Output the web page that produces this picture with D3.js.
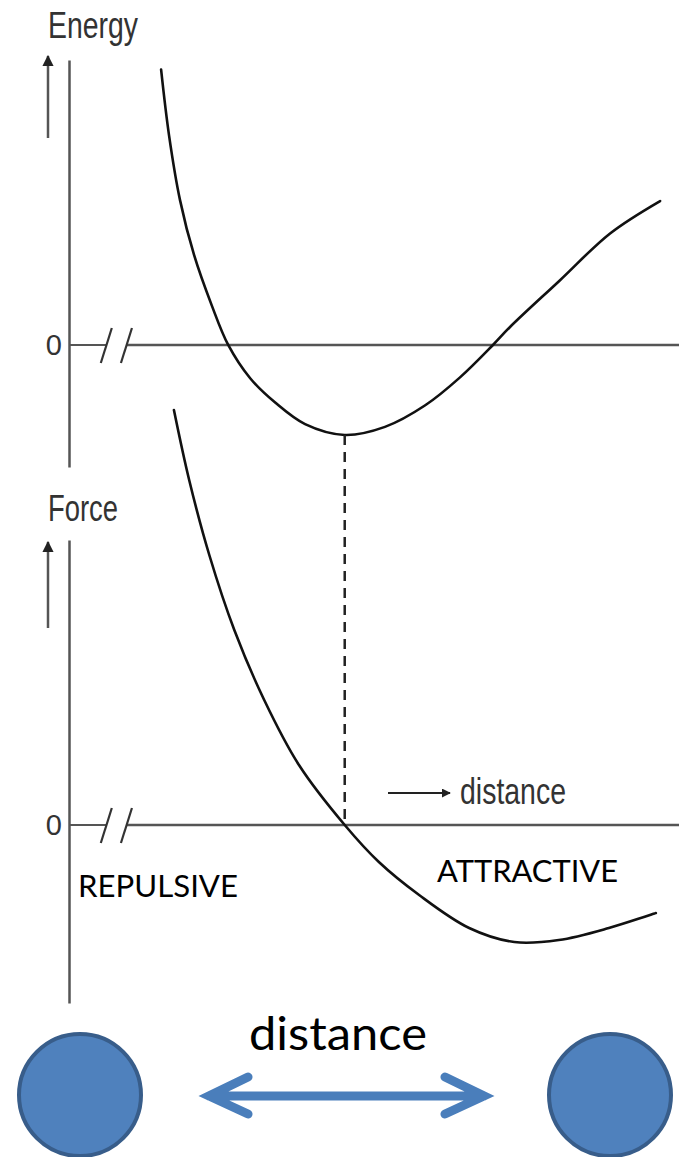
<!DOCTYPE html>
<html>
<head>
<meta charset="utf-8">
<script src="https://cdn.jsdelivr.net/npm/d3@7"></script>
<style>
  body { margin: 0; background: #fff; }
  svg { display: block; }
</style>
</head>
<body>
<svg id="chart"></svg>
<script>
// energy curve (distance in arbitrary units)
var energyDist = [1.51, 1.64, 1.82, 2.05, 2.34, 2.61, 2.97, 3.38, 3.87, 4.52, 5.18, 5.84, 6.41, 6.95, 7.23, 8.05, 8.87, 9.69];
var energyVals = [3.06, 2.33, 1.61, 1.00, 0.44, 0.00, -0.37, -0.64, -0.88, -1.00, -0.91, -0.67, -0.36, 0.00, 0.20, 0.72, 1.24, 1.60];

// force curve
var forceDist = [1.72, 1.97, 2.30, 2.71, 3.20, 3.77, 4.52, 5.08, 5.74, 6.56, 7.30, 8.03, 8.85, 9.62];
var forceVals = [4.15, 3.45, 2.70, 1.95, 1.25, 0.60, 0.00, -0.37, -0.70, -1.03, -1.17, -1.15, -1.03, -0.88];

var equilibrium = 4.52;
var axisBreak = [0.62, 0.95];
var zeroTicks = [0];

var width = 679, height = 1157;

var svg = d3.select("#chart").attr("width", width).attr("height", height);

var x = d3.scaleLinear().domain([0, 10]).range([69, 679]);
var yE = d3.scaleLinear().domain([-1.356, 3.167]).range([467, 60]);
var yF = d3.scaleLinear().domain([-1.78, 2.85]).range([1003, 540]);

var axisColor = "#555", inkFont = "'Liberation Sans', Arial, sans-serif";

var defs = svg.append("defs");
defs.append("marker")
    .attr("id", "head")
    .attr("viewBox", "0 0 10 10")
    .attr("refX", 9).attr("refY", 5)
    .attr("markerWidth", 4.5).attr("markerHeight", 4.5)
    .attr("markerUnits", "strokeWidth")
    .attr("orient", "auto")
  .append("path")
    .attr("d", "M0,0L10,5L0,10z")
    .attr("fill", "#222");

function panel(y, dist, vals, title, titleY, arrowY0, arrowY1, titleLen){
  var g = svg.append("g");

  // vertical axis with only the 0 label
  var ax = g.append("g")
      .attr("transform", "translate(" + x(0) + ",0)")
      .call(d3.axisLeft(y).tickValues(zeroTicks).tickSize(0).tickPadding(7).tickFormat(d3.format("d")));
  ax.select(".domain").attr("stroke", axisColor).attr("stroke-width", 2.5);
  ax.selectAll("text")
      .attr("font-family", inkFont).attr("font-size", 29).attr("fill", "#333");

  // horizontal zero line with a break
  g.append("line")
      .attr("x1", x(0)).attr("x2", x(axisBreak[0]))
      .attr("y1", y(0)).attr("y2", y(0))
      .attr("stroke", axisColor).attr("stroke-width", 2);
  g.append("line")
      .attr("x1", x(axisBreak[1])).attr("x2", width)
      .attr("y1", y(0)).attr("y2", y(0))
      .attr("stroke", axisColor).attr("stroke-width", 2.5);
  g.selectAll(".brk")
      .data(axisBreak)
    .enter().append("line")
      .attr("class", "brk")
      .attr("x1", function(d) { return x(d) - 6; })
      .attr("x2", function(d) { return x(d) + 5; })
      .attr("y1", y(0) + 18).attr("y2", y(0) - 17)
      .attr("stroke", "#333").attr("stroke-width", 2.2);

  // title and up arrow
  g.append("text")
      .attr("x", 48).attr("y", titleY)
      .attr("font-family", inkFont).attr("font-size", 37)
      .attr("textLength", titleLen).attr("lengthAdjust", "spacingAndGlyphs")
      .attr("fill", "#333")
      .text(title);
  g.append("line")
      .attr("x1", 48).attr("x2", 48)
      .attr("y1", arrowY1).attr("y2", arrowY0)
      .attr("stroke", "#555").attr("stroke-width", 2.5)
      .attr("marker-end", "url(#head)");

  // curve
  var line = d3.line()
      .x(function(d) { return x(d[0]); })
      .y(function(d) { return y(d[1]); })
      .curve(d3.curveCatmullRom.alpha(0.5));
  g.append("path")
      .datum(d3.zip(dist, vals))
      .attr("d", line)
      .attr("fill", "none")
      .attr("stroke", "#111")
      .attr("stroke-width", 2.6)
      .attr("stroke-linecap", "round");
  return g;
}

panel(yE, energyDist, energyVals, "Energy", 38, 56, 138, 90);
panel(yF, forceDist, forceVals, "Force", 521, 542, 628, 70);

// dashed line at equilibrium distance
svg.append("line")
    .attr("x1", x(equilibrium)).attr("x2", x(equilibrium))
    .attr("y1", yE(d3.min(energyVals))).attr("y2", yF(0))
    .attr("stroke", "#222").attr("stroke-width", 2.5)
    .attr("stroke-dasharray", "10,7");

// small distance arrow
svg.append("line")
    .attr("x1", 388).attr("x2", 450)
    .attr("y1", 793).attr("y2", 793)
    .attr("stroke", "#222").attr("stroke-width", 2)
    .attr("marker-end", "url(#head)");
svg.append("text")
    .attr("x", 460).attr("y", 804)
    .attr("font-family", inkFont).attr("font-size", 36)
    .attr("textLength", 106).attr("lengthAdjust", "spacingAndGlyphs")
    .attr("fill", "#333")
    .text("distance");

var labelFont = "Lato, 'Open Sans', sans-serif";
svg.append("text")
    .attr("x", 437).attr("y", 882)
    .attr("font-family", labelFont).attr("font-size", 30)
    .attr("textLength", 181).attr("lengthAdjust", "spacingAndGlyphs")
    .text("ATTRACTIVE");
svg.append("text")
    .attr("x", 78).attr("y", 897)
    .attr("font-family", labelFont).attr("font-size", 30)
    .attr("textLength", 160).attr("lengthAdjust", "spacingAndGlyphs")
    .text("REPULSIVE");

// two particles and a double arrow
svg.selectAll(".atom")
    .data([80, 610])
  .enter().append("circle")
    .attr("class", "atom")
    .attr("cx", function(d) { return d; })
    .attr("cy", 1095)
    .attr("r", 61)
    .attr("fill", "#4f81bd")
    .attr("stroke", "#385d8a")
    .attr("stroke-width", 4);

svg.append("path")
    .attr("d", "M248,1077L209,1096L248,1114M209,1096L484,1096M445,1077L484,1096L445,1114")
    .attr("fill", "none")
    .attr("stroke", "#4a7ebb")
    .attr("stroke-width", 9)
    .attr("stroke-linecap", "round")
    .attr("stroke-linejoin", "miter");

svg.append("text")
    .attr("x", 249).attr("y", 1050)
    .attr("font-family", labelFont).attr("font-size", 47)
    .attr("textLength", 178).attr("lengthAdjust", "spacingAndGlyphs")
    .text("distance");
</script>
</body>
</html>
